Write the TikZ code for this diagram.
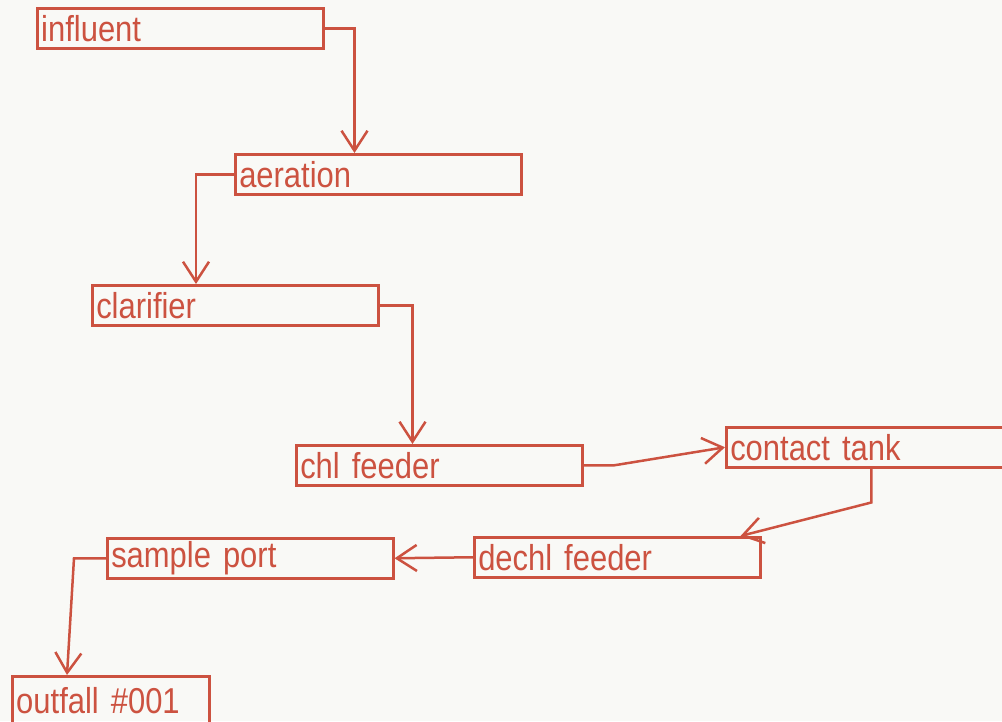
\documentclass[tikz,border=0pt]{standalone}
\usepackage{fontspec}
\setmainfont{Liberation Sans}
\newfontfamily\stagefont{Liberation Sans}[FakeStretch=0.86, WordSpace=0.6]
\usetikzlibrary{arrows.meta, calc}
\definecolor{flowred}{RGB}{204,82,64}
\definecolor{paper}{RGB}{249,249,246}

\begin{document}
\begin{tikzpicture}[x=1pt, y=-1pt, >={Straight Barb[length=20pt, width=26pt]},
  stage/.style={draw=flowred, line width=2.5pt, text=flowred, anchor=north west,
    minimum width=286pt, minimum height=40pt, text width=278pt, align=left,
    inner xsep=4pt, inner ysep=0pt, font=\stagefont\fontsize{36}{36}\selectfont},
  flow/.style={->, draw=flowred, line width=2.5pt}]
\fill[paper] (0,0) rectangle (1002,721);
\clip (0,0) rectangle (1002,721);
\node[stage] (influent) at (36,7) {influent};
\node[stage] (aeration) at (234,153) {aeration};
\node[stage] (clarifier) at (91,284) {clarifier};
\node[stage] (chl) at (295,444) {chl feeder};
\node[stage, minimum width=290pt, text width=282pt] (contact) at (725,426) {contact tank};
\node[stage] (dechl) at (473,536) {dechl feeder};
\node[stage] (sample) at (106,537) {sample port};
\node[stage, minimum width=197pt, text width=189pt, minimum height=48pt] (outfall) at (11,675) {outfall \#001};
\draw[flow] (influent.east) -- ++(30,0) coordinate (b1) -- (b1 |- aeration.north);
\draw[flow] (aeration.west) -- ++(-38,0) coordinate (b2) -- (b2 |- clarifier.north);
\draw[flow] (clarifier.east) -- ++(33,0) coordinate (b3) -- (b3 |- chl.north);
\draw[flow] (chl.east) -- ++(31,0) -- (contact.west);
\draw[flow] (contact.south) -- ++(0,34) -- ($(dechl.north east)+(-21,0)$);
\draw[flow] (dechl.west) -- (sample.east);
\draw[flow] (sample.west) -- ++(-32,0) -- ($(outfall.north west)+(56,0)$);
\end{tikzpicture}
\end{document}
